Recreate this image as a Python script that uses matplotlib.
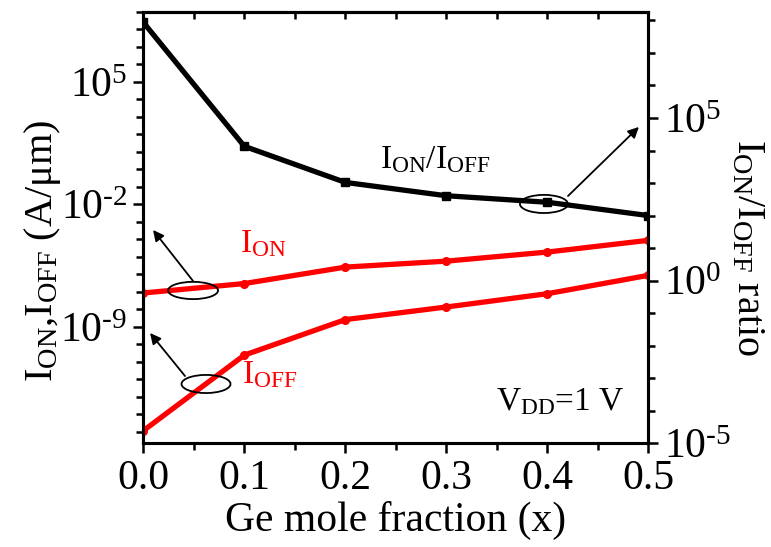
import numpy as np
import matplotlib
matplotlib.use("Agg")
import matplotlib.pyplot as plt
from matplotlib.ticker import FixedLocator, FuncFormatter, MultipleLocator
from matplotlib.patches import Ellipse

# Ge mole fraction and device figures of merit (V_DD = 1 V)
ge_fraction = [0.0, 0.1, 0.2, 0.3, 0.4, 0.5]
i_on = [10**-7.06, 10**-6.52, 10**-5.58, 10**-5.24, 10**-4.72, 10**-4.05]      # A/um
i_off = [10**-14.93, 10**-10.61, 10**-8.58, 10**-7.86, 10**-7.10, 10**-6.05]  # A/um
on_off_ratio = [10**7.94, 10**4.13, 10**3.02, 10**2.61, 10**2.41, 10**2.00]

left_major = [1e-9, 1e-2, 1e5]
right_major = [1e-5, 1e0, 1e5]

plt.rcParams["font.family"] = ["Liberation Serif", "DejaVu Serif"]
plt.rcParams["mathtext.fontset"] = "custom"
plt.rcParams["mathtext.rm"] = "Liberation Serif"
plt.rcParams["mathtext.it"] = "Liberation Serif:italic"
plt.rcParams["mathtext.bf"] = "Liberation Serif:bold"

fig = plt.figure(figsize=(7.71, 5.47), dpi=100)
ax = fig.add_axes([0.1859, 0.1896, 0.6552, 0.7885])
ax2 = ax.twinx()

red = "#ff0000"
ax.plot(ge_fraction, i_on, color=red, lw=3.8, marker="o", ms=5.5, zorder=3)
ax.plot(ge_fraction, i_off, color=red, lw=3.8, marker="o", ms=5.5, zorder=3)
ax2.plot(ge_fraction, on_off_ratio, color="black", lw=3.8, marker="s", ms=5.5, zorder=3)

ax.set_yscale("log")
ax2.set_yscale("log")
ax.set_xlim(0.0, 0.5)
ax.set_ylim(10**-15.65, 10**9.0)
ax2.set_ylim(10**-5.0, 10**8.26)

def pow10(v, pos):
    k = int(round(np.log10(v)))
    if k < 0:
        return r"$\mathregular{10^{\text{-}%d}}$" % (-k)
    return r"$\mathregular{10^{%d}}$" % k

ax.yaxis.set_major_locator(FixedLocator(left_major))
ax.yaxis.set_minor_locator(FixedLocator([10.0**k for k in range(-15, 10)]))
ax.yaxis.set_major_formatter(FuncFormatter(pow10))
ax.yaxis.set_minor_formatter(FuncFormatter(lambda v, p: ""))
ax2.yaxis.set_major_locator(FixedLocator(right_major))
ax2.yaxis.set_minor_locator(FixedLocator([10.0**k for k in range(-5, 9)]))
ax2.yaxis.set_major_formatter(FuncFormatter(pow10))
ax2.yaxis.set_minor_formatter(FuncFormatter(lambda v, p: ""))

ax.xaxis.set_major_locator(MultipleLocator(0.1))
ax.xaxis.set_minor_locator(MultipleLocator(0.05))
ax.xaxis.set_major_formatter(FuncFormatter(lambda v, p: "%.1f" % v))

for a in (ax, ax2):
    for s in a.spines.values():
        s.set_linewidth(2.2)

ax.tick_params(axis="both", which="major", direction="out", length=7.5, width=1.8,
               labelsize=30, pad=4)
ax.tick_params(axis="both", which="minor", direction="out", length=5, width=1.8)
ax2.tick_params(axis="y", which="major", direction="out", length=7.5, width=1.8,
                labelsize=30, pad=4)
ax2.tick_params(axis="y", which="minor", direction="out", length=5, width=1.8)

top = ax.secondary_xaxis("top")
top.xaxis.set_major_locator(MultipleLocator(0.1))
top.xaxis.set_minor_locator(MultipleLocator(0.05))
top.tick_params(which="both", direction="in", length=5, width=1.8, labeltop=False)
top.spines["top"].set_linewidth(2.2)

ax.set_xlabel("Ge mole fraction (x)", fontsize=30, labelpad=2)
ax.set_ylabel(r"I$_{\mathregular{ON}}$,I$_{\mathregular{OFF}}$ (A/$\mathregular{\mu}$m)",
              fontsize=29)
ax.yaxis.set_label_coords(-0.159, 0.446)
ax2.set_ylabel(r"I$_{\mathregular{ON}}$/I$_{\mathregular{OFF}}$ ratio", fontsize=29,
               rotation=-90, va="bottom")
ax2.yaxis.set_label_coords(1.159, 0.453)

# curve labels
ax.text(0.4693, 0.638, r"I$_{\mathregular{ON}}$/I$_{\mathregular{OFF}}$", transform=ax.transAxes,
        fontsize=24, color="black", ha="left", va="baseline")
ax.text(0.1914, 0.444, r"I$_{\mathregular{ON}}$", transform=ax.transAxes,
        fontsize=24, color=red, ha="left", va="baseline")
ax.text(0.1948, 0.139, r"I$_{\mathregular{OFF}}$", transform=ax.transAxes,
        fontsize=24, color=red, ha="left", va="baseline")
ax.text(0.953, 0.077, r"V$_{\mathregular{DD}}$=1 V", transform=ax.transAxes,
        fontsize=24, color="black", ha="right", va="baseline")

# ellipses marking each curve, with arrows pointing to its axis
marks = [
    ((0.793, 0.5549), 0.095, 0.042, (0.8407, 0.5734), (0.981, 0.7334)),
    ((0.0984, 0.3543), 0.099, 0.040, (0.0984, 0.3763), (0.0192, 0.4946)),
    ((0.1241, 0.1375), 0.097, 0.042, (0.0825, 0.156), (0.0133, 0.2557)),
]
for center, w, h, start, end in marks:
    ax2.add_patch(Ellipse(center, w, h, transform=ax.transAxes, fill=False,
                          edgecolor="black", lw=1.3, zorder=5))
    ax2.annotate("", xy=end, xycoords=ax.transAxes, xytext=start, textcoords=ax.transAxes,
                 arrowprops=dict(arrowstyle="-|>", color="black", lw=1.3,
                                 mutation_scale=16, shrinkA=0, shrinkB=0), zorder=5)

fig.savefig("out.png", dpi=100)
